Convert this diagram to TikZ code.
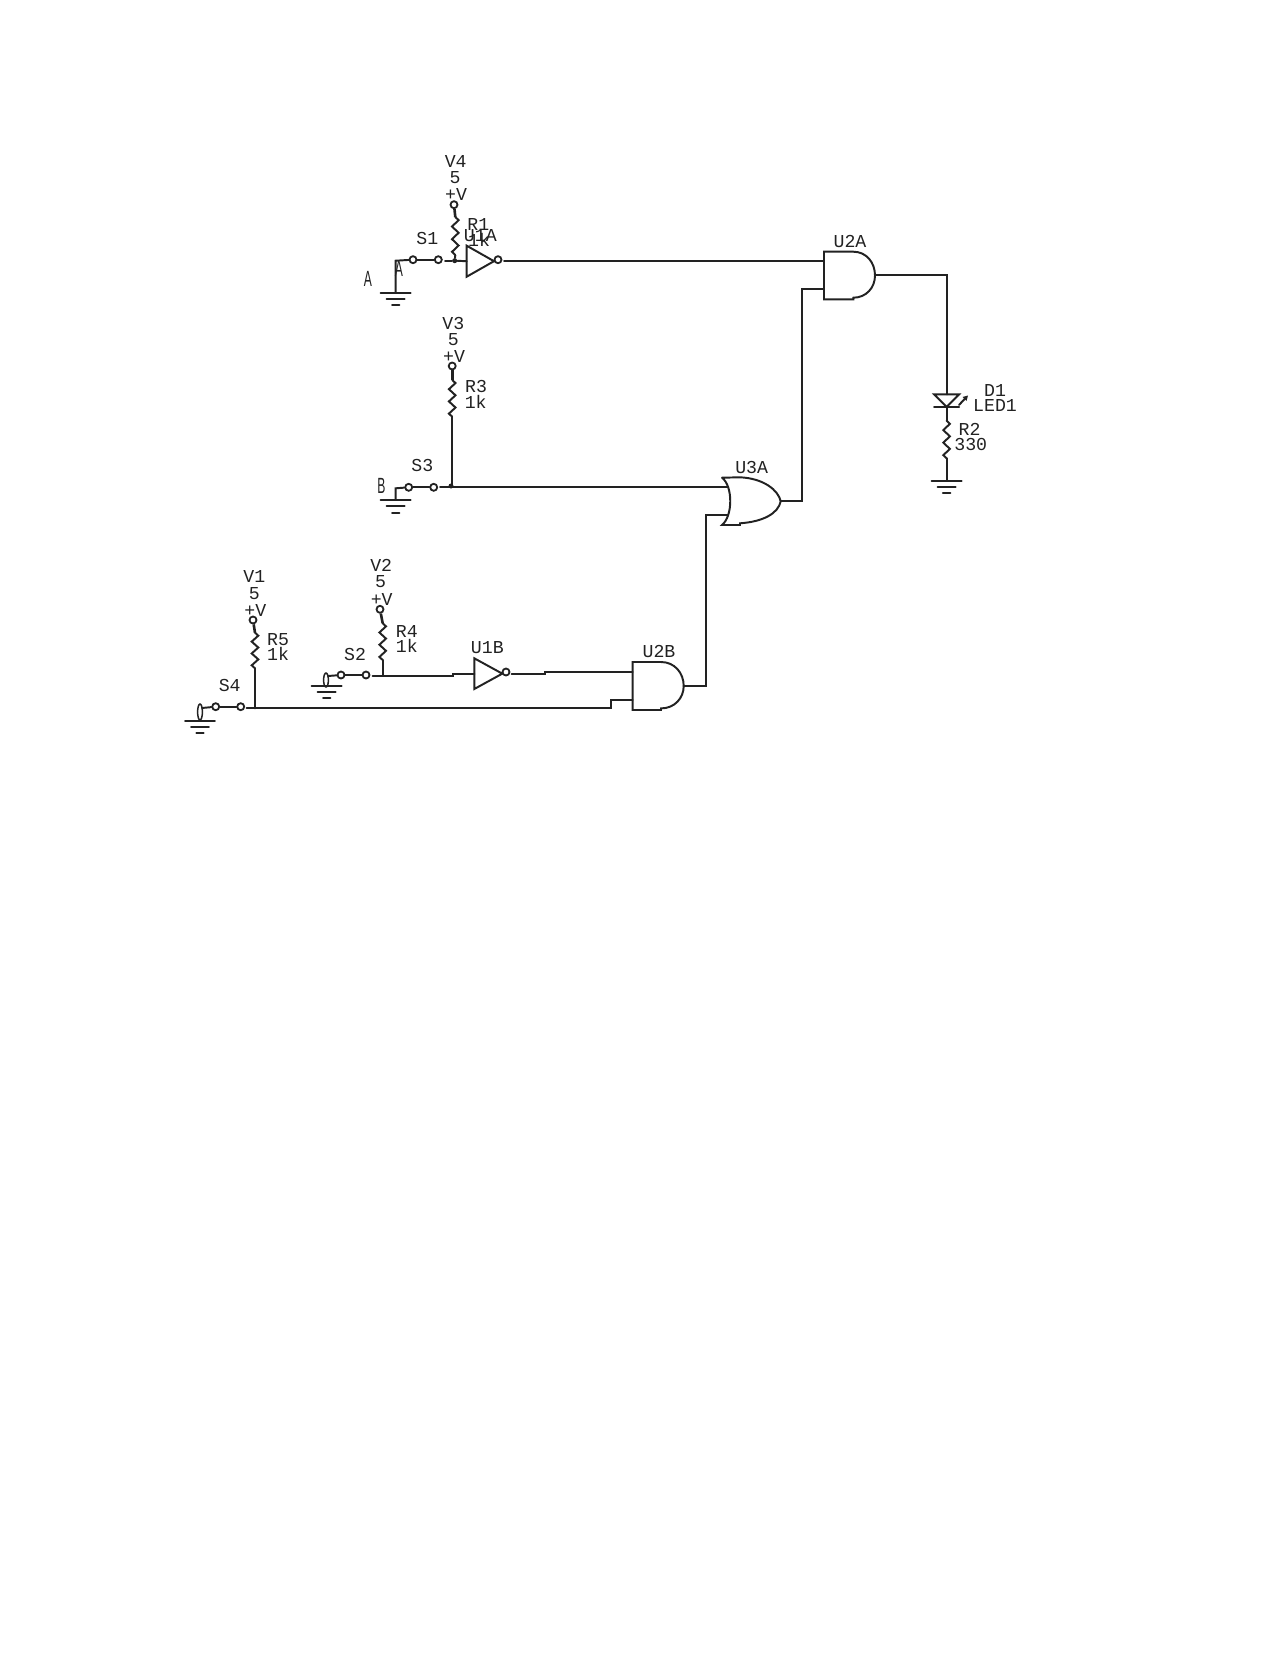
\documentclass[tikz,border=0pt]{standalone}
\usepackage{fontspec}
\setmainfont{Liberation Mono}
\newfontfamily\condfont{Liberation Sans}
\definecolor{ink}{HTML}{222222}
\newcommand{\gndsym}[3]{%
  \coordinate (#1) at (#2,#3);
  \draw[wire] (#2-15,#3) -- (#2+15,#3);
  \draw[wire] (#2-9,#3+6.3) -- (#2+9,#3+6.3);
  \draw[wire] (#2-3.7,#3+12.6) -- (#2+3.7,#3+12.6);
}
\newcommand{\ressym}[5]{% name-top name-bottom x y1 y2
  \coordinate (#1) at (#3,#4);
  \coordinate (#2) at (#3,#5);
  \pgfmathsetmacro{\rs}{(#5-#4)/12}
  \draw[wire,line join=miter] (#3,#4) -- ++(3.3,\rs) -- ++(-6.6,2*\rs) -- ++(6.6,2*\rs) -- ++(-6.6,2*\rs) -- ++(6.6,2*\rs) -- ++(-6.6,2*\rs) -- (#3,#5);
}
\newcommand{\andsym}[6]{% name left top bottom arcstart tip
  \pgfmathsetmacro{\mm}{(#3+#4)/2}
  \pgfmathsetmacro{\rr}{(#6-#5)}
  \coordinate (#1out) at (#6,\mm);
  \draw[wire,line join=miter] (#5,#3) -- (#2,#3) -- (#2,#4) -- (#5,#4) -- ++(0,-1.6)
    .. controls (#5+0.6*\rr,#4-1.6) and (#6,\mm+12) .. (#6,\mm)
    .. controls (#6,\mm-13) and (#5+0.6*\rr,#3) .. (#5,#3);
}
\newcommand{\invsym}[5]{% name left top bottom tip
  \pgfmathsetmacro{\mm}{(#3+#4)/2}
  \draw[wire,line join=miter] (#2,#3) -- (#5,\mm) -- (#2,#4) -- cycle;
  \coordinate (#1in) at (#2,\mm);
}
\tikzset{
  x=1pt,y=-1pt,
  wire/.style={draw=ink,line width=1.95pt,line cap=round},
  stem/.style={draw=ink,line width=2.6pt},
  term/.style={circle,draw=ink,line width=1.8pt,fill=white,inner sep=0pt,minimum size=7pt},
  dotj/.style={circle,fill=ink,inner sep=0pt,minimum size=5pt},
  lab/.style={inner sep=0pt,text=ink,yshift=-0.6pt,font=\fontsize{18.2}{18.2}\selectfont},
  cond/.style={inner sep=0pt,text=ink,xscale=.55,font=\condfont\fontsize{22}{22}\selectfont},
}
\begin{document}
\begin{tikzpicture}
\useasboundingbox[fill=white] (0,0) rectangle (1280,1656);

% ---------- branch A
\gndsym{g1}{395.7}{292.7}
\coordinate (g1top) at (395.7,260.7);
\node[term] (s1a) at (413,259.7) {};
\node[term] (s1b) at (438.3,259.7) {};
\node[term] (v4t) at (454,204.7) {};
\ressym{r1t}{r1b}{455.3}{217}{255}
\node[dotj] (j1) at (454.7,260.7) {};
\coordinate (s1out) at (445,260.7);
\invsym{u1a}{466.7}{245.7}{276.7}{494}
\node[term] (u1abub) at (498,259.7) {};
\coordinate (u1aout) at (504,261.3);
\draw[wire] (g1) -- (g1top) -- (s1a);
\draw[wire] (s1a) -- (s1b);
\draw[wire] (s1out) -- (j1);
\draw[wire] (j1) -- (u1ain);
\draw[stem] (v4t) -- (r1t);
\draw[wire] (r1b) -- (j1);

% ---------- U2A
\andsym{u2a}{824}{251.7}{299.3}{853.3}{875}
\coordinate (u2ai1) at (824,261.7);
\coordinate (u2ai2) at (824,289.3);
\draw[wire] (u1aout) -- (u1aout -| u2ai1);
\coordinate (ledtop) at (946.6,394.3);
\coordinate (ledbot) at (946.6,407);
\draw[wire] (875,275.3) -- (946.6,275.3) -- (ledtop);
\draw[wire,line join=miter] (934.1,394.3) -- (959.1,394.3) -- (ledbot) -- cycle;
\draw[wire] (934.1,407) -- (959.1,407);
\draw[wire] (959,405) -- (966,397.5);
\fill[ink] (968,395.5) -- (962.5,397) -- (966.5,401) -- cycle;
\ressym{r2t}{r2b}{946.6}{420.7}{458.3}
\draw[wire] (ledbot) -- (r2t);
\gndsym{g2}{946.6}{480.7}
\draw[wire] (r2b) -- (g2);

% ---------- branch B
\node[term] (v3t) at (452.2,366) {};
\ressym{r3t}{r3b}{452.2}{380}{416.7}
\draw[stem] (v3t) -- (r3t);
\node[dotj] (j3) at (451,486) {};
\coordinate (j3w) at (452.2,487);
\draw[wire] (r3b) -- (j3w);
\gndsym{g3}{395.7}{500}
\node[term] (s3a) at (408.7,487.3) {};
\node[term] (s3b) at (433.7,487.3) {};
\coordinate (g3top) at (395.7,488.3);
\coordinate (s3out) at (440,487);
\draw[wire] (g3) -- (g3top) -- (s3a);
\draw[wire] (s3a) -- (s3b);
\draw[wire] (s3out) -- (j3w);
\coordinate (u3ai1) at (728,487);
\coordinate (u3ai2) at (728,515.3);
\coordinate (u3aout) at (780.7,501.3);
\draw[wire] (j3w) -- (u3ai1);
\draw[wire,line join=miter] (722,477.7) .. controls (733,486) and (733,516) .. (722,525)
  -- (740,525) -- (740,523.3) .. controls (763.3,521.7) and (778.3,513.3) .. (u3aout)
  .. controls (778.3,490) and (763.3,478.3) .. (740,477.3) -- (722,477.7);
\draw[wire,line join=miter] (u3aout) -- (802.3,501.3) -- (802.3,289.3) -- (u2ai2);

% ---------- branch C
\andsym{u2b}{632.7}{662}{710}{661}{683.7}
\coordinate (u2bi1) at (632.7,672);
\coordinate (u2bi2) at (632.7,700.3);
\draw[wire,line join=miter] (683.7,686) -- (706.3,686) -- (706.3,515.3) -- (u3ai2);

\node[term] (v2t) at (380,609.3) {};
\ressym{r4t}{r4b}{382.7}{623.3}{660}
\draw[stem] (v2t) -- (r4t);
\gndsym{g4}{326.7}{685.7}
\draw[wire,line width=1.5pt] (326,680) ellipse [x radius=2.4pt,y radius=7pt];
\coordinate (g4top) at (328,676);
\node[term] (s2a) at (341,675) {};
\node[term] (s2b) at (366,675) {};
\coordinate (s2out) at (372.7,676);
\draw[wire] (g4top) -- (s2a);
\draw[wire] (s2a) -- (s2b);
\draw[wire,line join=miter] (s2out) -- (452.7,676) -- (452.7,673.7) -- (474.3,673.7);
\draw[wire] (r4b) -- (382.7,676);
\invsym{u1b}{474.3}{658.3}{689}{502.3}
\node[term] (u1bbub) at (506,672) {};
\coordinate (u1bout) at (511.7,673.7);
\draw[wire,line join=miter] (u1bout) -- (545.3,673.7) -- (545.3,672) -- (u2bi1);

\node[term] (v1t) at (253,620) {};
\ressym{r5t}{r5b}{255}{632.7}{668.3}
\draw[stem] (v1t) -- (r5t);
\gndsym{g5}{200}{720.7}
\draw[wire,line width=1.5pt] (200,712) ellipse [x radius=2.4pt,y radius=8pt];
\coordinate (g5top) at (202,708);
\node[term] (s4a) at (215.7,706.7) {};
\node[term] (s4b) at (240.7,706.7) {};
\coordinate (s4out) at (246.7,708.3);
\draw[wire] (g5top) -- (s4a);
\draw[wire] (s4a) -- (s4b);
\draw[wire] (r5b) -- (255,708.3);
\draw[wire,line join=miter] (s4out) -- (611,708.3) -- (611,700.3) -- (u2bi2);

% ---------- labels
\node[lab] (tv4) at (455.7,160.7) {V4};
\node[lab] (t5a) at (455,177.3) {5};
\node[lab] (tpa) at (456,194) {+V};
\node[lab] (ts1) at (427.3,238.3) {S1};
\node[lab] (tr1) at (478.3,224.3) {R1};
\node[lab] (t1k1) at (479,239) {1k};
\node[lab] (tu1a) at (480.3,235.3) {U1A};
\node[cond] (ta1) at (368,279) {A};
\node[cond] (ta2) at (399,269) {A};
\node[lab] (tu2a) at (850,241) {U2A};
\node[lab] (td1) at (995,389.8) {D1};
\node[lab] (tled) at (995,405.2) {LED1};
\node[lab] (tr2) at (969.6,429.3) {R2};
\node[lab] (t330) at (970.7,444.3) {330};
\node[lab] (tv3) at (453.3,323) {V3};
\node[lab] (t5b) at (453.3,338.5) {5};
\node[lab] (tpb) at (454,355.5) {+V};
\node[lab] (tr3) at (476,386.3) {R3};
\node[lab] (t1k3) at (475.7,401.7) {1k};
\node[lab] (ts3) at (422.3,465) {S3};
\node[cond] (tb) at (381.3,485.7) {B};
\node[lab] (tu3a) at (751.7,467.3) {U3A};
\node[lab] (tu1b) at (487.3,646.7) {U1B};
\node[lab] (tu2b) at (659,650.5) {U2B};
\node[lab] (tv2) at (381.2,565.3) {V2};
\node[lab] (t5c) at (380.7,581.3) {5};
\node[lab] (tpc) at (381.7,599) {+V};
\node[lab] (tr4) at (406.8,630.7) {R4};
\node[lab] (t1k4) at (406.8,645.5) {1k};
\node[lab] (ts2) at (355,654) {S2};
\node[lab] (tv1) at (254.3,576) {V1};
\node[lab] (t5d) at (254.3,592.7) {5};
\node[lab] (tpd) at (255.3,610.3) {+V};
\node[lab] (tr5) at (278,639.3) {R5};
\node[lab] (t1k5) at (278,653.5) {1k};
\node[lab] (ts4) at (229.7,684.5) {S4};
\end{tikzpicture}
\end{document}
